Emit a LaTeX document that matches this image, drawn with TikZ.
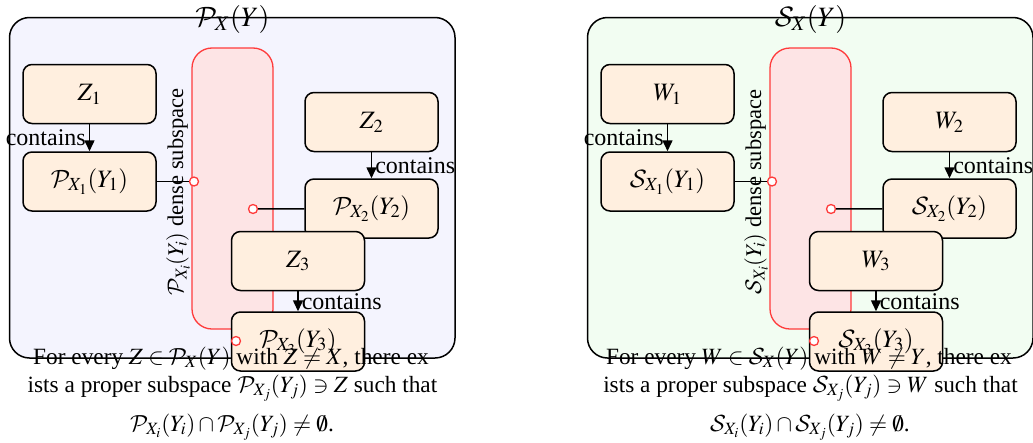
\RequirePackage{fix-cm}
\documentclass[tikz,border=0pt]{standalone}
\usepackage{mathptmx}
\DeclareMathAlphabet{\mathcal}{OMS}{cmsy}{m}{n}
\usepackage[no-math]{fontspec}
\setmainfont{Liberation Serif}
\usetikzlibrary{arrows.meta}

\definecolor{panelblue}{HTML}{F4F4FE}
\definecolor{panelgreen}{HTML}{F2FDF2}
\definecolor{boxfill}{HTML}{FFEFDF}
\definecolor{pillfill}{HTML}{FDE4E5}
\definecolor{pillline}{HTML}{FF3B3B}

\tikzset{
  panel/.style={draw=black, line width=1.5, rounded corners=20,
    minimum width=445.5, minimum height=340.5, inner sep=0},
  paneltitle/.style={font=\fontsize{28}{30}\selectfont, inner sep=0},
  pill/.style={draw=pillline, fill=pillfill, line width=1.3, rounded corners=20,
    minimum width=81, minimum height=281, inner sep=0},
  spacebox/.style={draw=black, fill=boxfill, line width=1.5, rounded corners=9,
    minimum width=133, minimum height=59, inner sep=0,
    font=\fontsize{25}{28}\selectfont},
  contains/.style={-{Triangle[length=11, width=10]}, line width=1.5},
  lbl/.style={font=\fontsize{24}{26}\selectfont, inner sep=3},
  sidelbl/.style={font=\fontsize{22.5}{24}\selectfont, inner sep=0},
  port/.style={circle, draw=pillline, fill=white, line width=1.3,
    minimum size=9, inner sep=0},
  link/.style={line width=1.5},
  capline/.style={font=\fontsize{23.3}{28}\selectfont, inner sep=0, anchor=base},
}

% one panel: #1 prefix, #2 horizontal shift, #3 panel colour,
% #4 calligraphic letter, #5 element letter, #6 excluded letter
\newcommand\subspacepanel[6]{%
  \begin{scope}[xshift=#2]
    \node[panel, fill=#3] (#1frame) at (232.25,187.75) {};
    \node[paneltitle] (#1title) at (232.5,19) {$\mathcal{#4}_X(Y)$};
    \node[pill] (#1pill) at (232.5,188.5) {};
    \node[sidelbl, rotate=90] (#1dense) at (178,192)
      {$\mathcal{#4}_{X_i}(Y_i)$ dense subspace};
    \node[spacebox] (#1e1) at (89.5,94) {$#5_1$};
    \node[spacebox] (#1s1) at (89.5,181.5) {$\mathcal{#4}_{X_1}(Y_1)$};
    \node[spacebox] (#1e2) at (371.5,122) {$#5_2$};
    \node[spacebox] (#1s2) at (371.5,208.5) {$\mathcal{#4}_{X_2}(Y_2)$};
    \node[port] (#1p1) at (194,181.5) {};
    \node[port] (#1p2) at (253,209) {};
    \draw[link] (#1s1) -- (#1p1);
    \draw[link] (#1s2) -- (#1p2);
    \node[spacebox] (#1e3) at (298,261) {$#5_3$};
    \node[spacebox] (#1s3) at (298,341.5) {$\mathcal{#4}_{X_3}(Y_3)$};
    \node[port] (#1p3) at (236,341) {};
    \draw[contains] (#1e1) -- node[lbl, left] (#1c1) {contains} (#1s1);
    \draw[contains] (#1e2) -- node[lbl, right] (#1c2) {contains} (#1s2);
    \draw[contains] (#1e3) -- node[lbl, right] (#1c3) {contains} (#1s3);
    \node[capline] (#1cap1) at (231,364)
      {For every $#5\in\mathcal{#4}_X(Y)$ with $#5\neq #6$, there ex};
    \node[capline] (#1cap2) at (232.5,392)
      {ists a proper subspace $\mathcal{#4}_{X_j}(Y_j)\ni #5$ such that};
    \node[capline] (#1cap3) at (232,431)
      {$\mathcal{#4}_{X_i}(Y_i)\cap\mathcal{#4}_{X_j}(Y_j)\neq\emptyset$.};
  \end{scope}%
}

\begin{document}
\begin{tikzpicture}[x=1pt, y=-1pt]
  \useasboundingbox (0,0) rectangle (1033,442);
  \subspacepanel{L}{0}{panelblue}{P}{Z}{X}
  \subspacepanel{R}{578}{panelgreen}{S}{W}{Y}
\end{tikzpicture}
\end{document}
